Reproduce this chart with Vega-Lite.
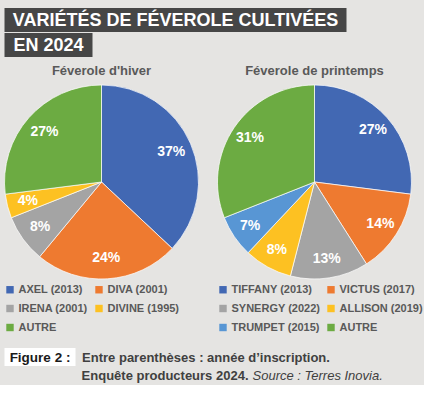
{
  "$schema": "https://vega.github.io/schema/vega-lite/v6.json",
  "background": "#e5e4e2",
  "padding": {"left": 3.5, "top": 8, "right": 0, "bottom": 0},
  "config": {
    "font": "Liberation Sans",
    "view": {"stroke": null},
    "legend": {
      "labelFont": "Liberation Sans",
      "labelFontSize": 11,
      "labelFontWeight": "bold",
      "labelColor": "#595959",
      "symbolType": "square",
      "symbolSize": 55,
      "symbolStrokeWidth": 0,
      "columnPadding": 5,
      "rowPadding": 7,
      "labelOffset": 3
    },
    "title": {"fontSize": 13, "fontWeight": "bold", "color": "#595959", "offset": 6}
  },
  "vconcat": [
    {
      "vconcat": [
        {
          "width": 342, "height": 24,
          "view": {"fill": "#464646", "stroke": null},
          "data": {"values": [{"t": "VARIÉTÉS DE FÉVEROLE CULTIVÉES"}]},
          "mark": {"type": "text", "fontSize": 18, "fontWeight": "bold", "color": "#ffffff", "baseline": "middle", "align": "center", "dy": 1},
          "encoding": {"text": {"field": "t"}}
        },
        {
          "width": 88, "height": 24,
          "view": {"fill": "#464646", "stroke": null},
          "data": {"values": [{"t": "EN 2024"}]},
          "mark": {"type": "text", "fontSize": 18, "fontWeight": "bold", "color": "#ffffff", "baseline": "middle", "align": "center", "dy": 1},
          "encoding": {"text": {"field": "t"}}
        }
      ],
      "spacing": 1
    },
    {
      "vconcat": [
        {
          "hconcat": [
            {
              "title": "Féverole d'hiver",
              "width": 194, "height": 196,
              "data": {"values": [
                {"name": "AXEL (2013)", "value": 0.37, "ord": 1},
                {"name": "DIVA (2001)", "value": 0.24, "ord": 2},
                {"name": "IRENA (2001)", "value": 0.08, "ord": 3},
                {"name": "DIVINE (1995)", "value": 0.04, "ord": 4},
                {"name": "AUTRE", "value": 0.27, "ord": 5}
              ]},
              "encoding": {
                "theta": {"field": "value", "type": "quantitative", "stack": true},
                "order": {"field": "ord", "type": "quantitative"}
              },
              "layer": [
                {
                  "mark": {"type": "arc", "outerRadius": 97, "stroke": "#ffffff", "strokeWidth": 0.7, "strokeJoin": "round"},
                  "encoding": {
                    "color": {
                      "field": "name", "type": "nominal",
                      "scale": {"domain": ["AXEL (2013)", "DIVA (2001)", "IRENA (2001)", "DIVINE (1995)", "AUTRE"],
                                "range": ["#4268B3", "#EE7A30", "#A4A4A4", "#FDC122", "#6CAB42"]},
                      "legend": {"title": null, "orient": "bottom", "direction": "horizontal", "columns": 2, "offset": 4}
                    }
                  }
                },
                {
                  "mark": {"type": "text", "radius": 76, "fontSize": 14, "fontWeight": "bold", "color": "#ffffff"},
                  "encoding": {
                    "detail": {"field": "name", "type": "nominal"},
                    "text": {"field": "value", "type": "quantitative", "format": ".0%"},
                    "color": {"value": "#ffffff"}
                  }
                }
              ]
            },
            {
              "title": "Féverole de printemps",
              "width": 194, "height": 196,
              "data": {"values": [
                {"name": "TIFFANY (2013)", "value": 0.27, "ord": 1},
                {"name": "VICTUS (2017)", "value": 0.14, "ord": 2},
                {"name": "SYNERGY (2022)", "value": 0.13, "ord": 3},
                {"name": "ALLISON (2019)", "value": 0.08, "ord": 4},
                {"name": "TRUMPET (2015)", "value": 0.07, "ord": 5},
                {"name": "AUTRE", "value": 0.31, "ord": 6}
              ]},
              "encoding": {
                "theta": {"field": "value", "type": "quantitative", "stack": true},
                "order": {"field": "ord", "type": "quantitative"}
              },
              "layer": [
                {
                  "mark": {"type": "arc", "outerRadius": 97, "stroke": "#ffffff", "strokeWidth": 0.7, "strokeJoin": "round"},
                  "encoding": {
                    "color": {
                      "field": "name", "type": "nominal",
                      "scale": {"domain": ["TIFFANY (2013)", "VICTUS (2017)", "SYNERGY (2022)", "ALLISON (2019)", "TRUMPET (2015)", "AUTRE"],
                                "range": ["#4268B3", "#EE7A30", "#A4A4A4", "#FDC122", "#5896D4", "#6CAB42"]},
                      "legend": {"title": null, "orient": "bottom", "direction": "horizontal", "columns": 2, "offset": 4}
                    }
                  }
                },
                {
                  "mark": {"type": "text", "radius": 78, "fontSize": 14, "fontWeight": "bold", "color": "#ffffff"},
                  "encoding": {
                    "detail": {"field": "name", "type": "nominal"},
                    "text": {"field": "value", "type": "quantitative", "format": ".0%"},
                    "color": {"value": "#ffffff"}
                  }
                }
              ]
            }
          ],
          "spacing": 17,
          "resolve": {"scale": {"color": "independent", "theta": "independent"}, "legend": {"color": "independent"}}
        },
        {
          "hconcat": [
            {
              "width": 71, "height": 18,
              "view": {"fill": "#ffffff", "stroke": null},
              "data": {"values": [{"t": "Figure 2 :"}]},
              "mark": {"type": "text", "fontSize": 13.5, "fontWeight": "bold", "color": "#1a1a1a", "baseline": "middle", "align": "center", "dy": 1},
              "encoding": {"text": {"field": "t"}}
            },
            {
              "vconcat": [
                {
                  "width": 243, "height": 18,
                  "data": {"values": [{"t": "Entre parenthèses : année d’inscription."}]},
                  "mark": {"type": "text", "fontSize": 13, "fontWeight": "bold", "color": "#404040", "baseline": "middle", "align": "center", "dy": 1},
                  "encoding": {"text": {"field": "t"}}
                },
                {
                  "width": 330, "height": 18,
                  "data": {"values": [{"a": "Enquête producteurs 2024.", "b": "Source : Terres Inovia."}]},
                  "layer": [
                    {
                      "mark": {"type": "text", "fontSize": 13, "fontWeight": "bold", "color": "#404040", "baseline": "middle", "align": "right", "dx": -1},
                      "encoding": {"text": {"field": "a"}}
                    },
                    {
                      "mark": {"type": "text", "fontSize": 13, "fontStyle": "italic", "color": "#404040", "baseline": "middle", "align": "left", "dx": 3},
                      "encoding": {"text": {"field": "b"}}
                    }
                  ]
                }
              ],
              "spacing": 1
            }
          ],
          "spacing": 6
        }
      ],
      "spacing": 15
    }
  ],
  "spacing": 8
}
